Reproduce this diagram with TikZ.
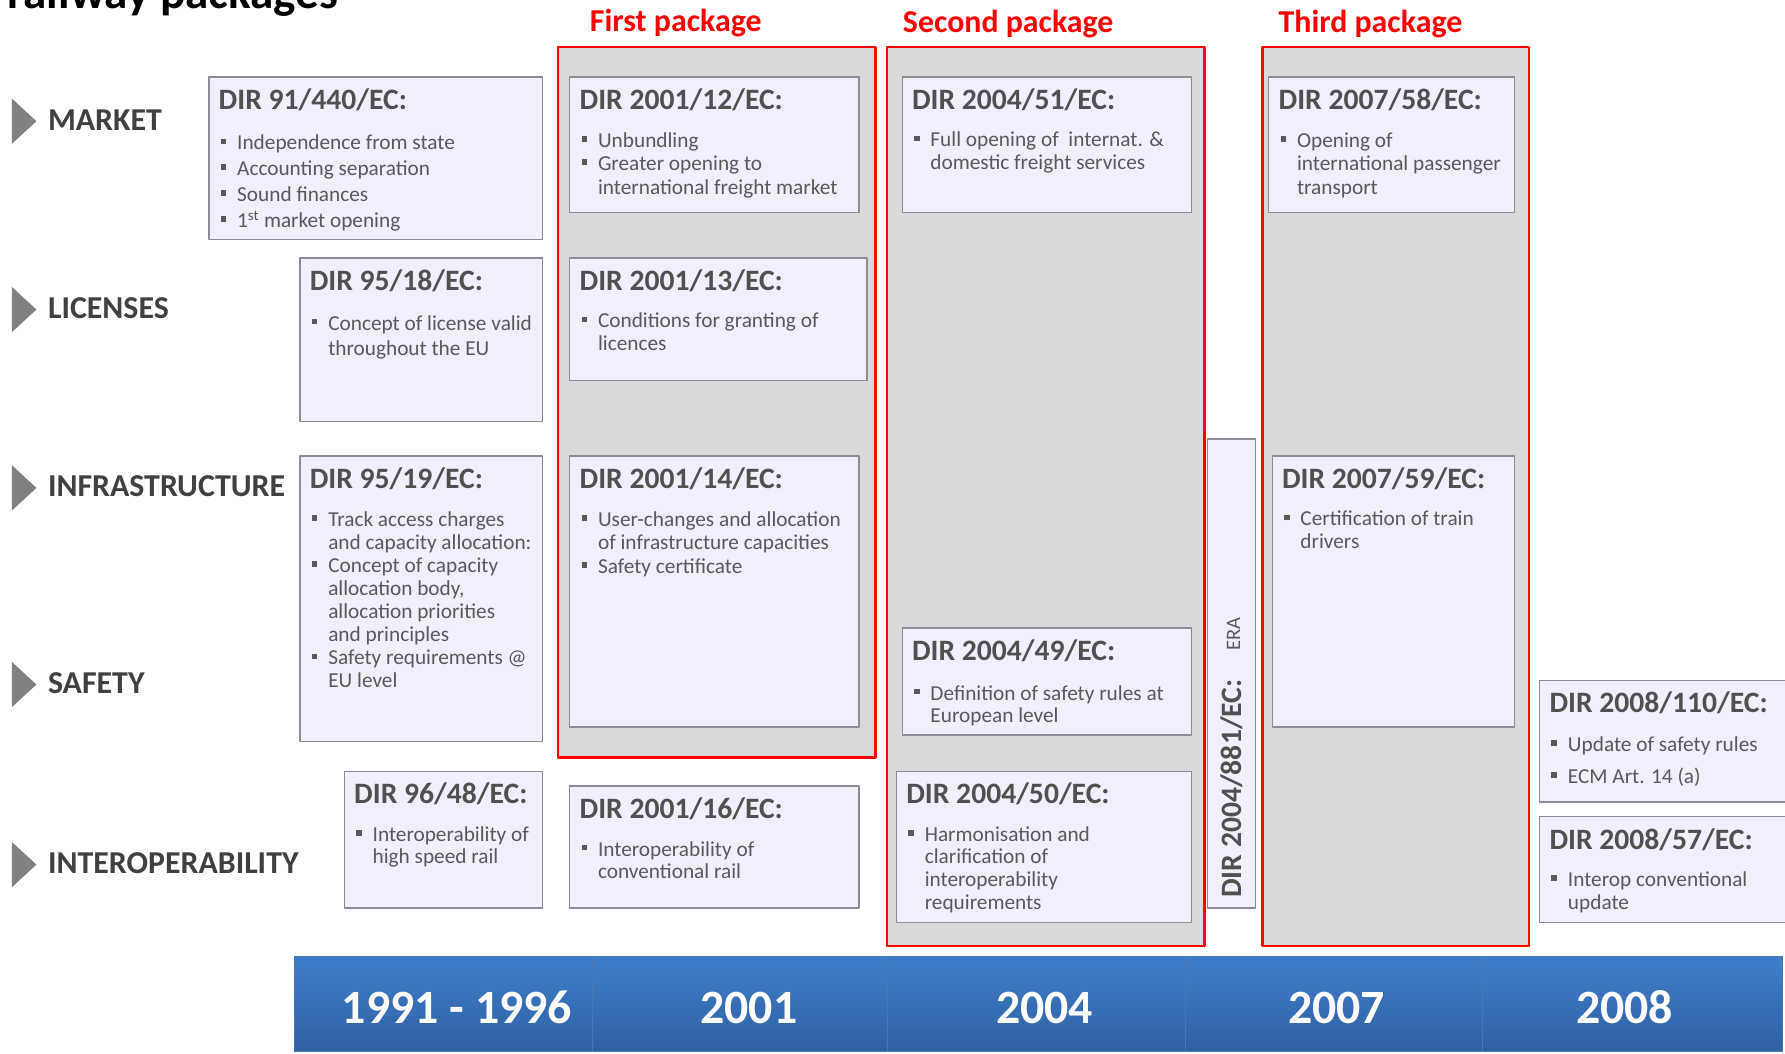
\documentclass[tikz,border=0pt]{standalone}
\usepackage{fontspec}
\setmainfont{Carlito}
\usetikzlibrary{positioning}

\definecolor{boxfill}{RGB}{240,239,251}
\definecolor{boxline}{RGB}{140,140,152}
\definecolor{pkgfill}{RGB}{217,217,217}
\definecolor{pkgred}{RGB}{255,0,0}
\definecolor{ttlgray}{RGB}{80,80,80}
\definecolor{txtgray}{RGB}{89,89,89}
\definecolor{catgray}{RGB}{64,64,64}
\definecolor{trigray}{RGB}{128,128,128}
\definecolor{bartop}{RGB}{62,126,202}
\definecolor{barbot}{RGB}{47,96,162}
\definecolor{barline}{RGB}{72,118,180}

% bullet line with hanging indent
\newcommand{\itm}{\par\hangindent=16.2pt\hangafter=1\noindent
  \hbox to 16.2pt{\hskip1.7pt\raisebox{4.9pt}{\rule{5pt}{5pt}}\hss}}
% box text: height, width, line skip, title, bullets
\newcommand{\dirtext}[5]{%
  \parbox[t][#1pt][t]{#2pt}{\raggedright\leftskip=8.6pt\relax
    \vspace*{7.4pt}%
    {\fontsize{26pt}{26pt}\selectfont\bfseries\color{ttlgray}\rule{0pt}{21pt}#4\par}%
    \vspace{13pt}%
    \fontsize{18.7pt}{#3pt}\selectfont\color{txtgray}#5\par}}

\begin{document}
\begin{tikzpicture}[x=1pt, y=1pt,
    line join=round,
    every node/.style = {inner sep=0pt},
    dirbox/.style = {draw=boxline, fill=boxfill, line width=1.1pt, anchor=north west},
    pkgbox/.style = {draw=pkgred, fill=pkgfill, line width=2.3pt, anchor=north west},
    pkglabel/.style = {anchor=base west, text=pkgred, font=\fontsize{28pt}{28pt}\selectfont\bfseries},
    catlabel/.style = {anchor=base west, text=catgray, font=\fontsize{28pt}{28pt}\selectfont\bfseries},
    yearseg/.style = {draw=barline, line width=1pt, top color=bartop, bottom color=barbot,
      minimum height=83, anchor=north west},
    yearlab/.style = {anchor=base, text=white, font=\fontsize{42pt}{42pt}\selectfont\bfseries}
    ]
    \useasboundingbox (0,0) rectangle (1568,-925);
    \clip (0,0) rectangle (1568,-925);

    \node[anchor=base west, font=\fontsize{41.4pt}{41.4pt}\selectfont\bfseries] (title) at (6.7,-7.5) {railway packages};

    % categories
    \foreach \nm/\txt/\yy in {market/MARKET/114.2, licenses/LICENSES/279.6,
        infra/INFRASTRUCTURE/436.3, safety/SAFETY/609, interop/INTEROPERABILITY/767.2} {
      \node[catlabel] (\nm) at (42,-\yy) {\txt};
      \fill[trigray] ([shift={(-31.5,7.7)}]\nm.base west) -- ++(0,19.8) -- ++(21.5,-19.8)
        -- ++(-21.5,-19.8) -- cycle;
    }

    % packages
    \node[pkgbox, minimum width=279, minimum height=624] (pkg1) at (489,-40) {};
    \node[pkgbox, minimum width=279, minimum height=790] (pkg2) at (778,-40) {};
    \node[pkgbox, minimum width=234, minimum height=790] (pkg3) at (1108,-40) {};
    \node[pkglabel] (pkg1lab) at ([shift={(29,12)}]pkg1.north west) {First package};
    \node[pkglabel] (pkg2lab) at ([shift={(15,11.6)}]pkg2.north west) {Second package};
    \node[pkglabel] (pkg3lab) at ([shift={(15,11.6)}]pkg3.north west) {Third package};

    % 1991 - 1996
    \node[dirbox] (d91440) at (183,-67) {\dirtext{143}{293}{22.7}{DIR 91/440/EC:}{%
      \itm Independence from state
      \itm Accounting separation
      \itm Sound finances
      \itm 1\textsuperscript{st} market opening}};
    \node[dirbox] (d9518) at (263,-226) {\dirtext{144}{213}{22}{DIR 95/18/EC:}{%
      \itm Concept of license valid\newline throughout the EU}};
    \node[dirbox] (d9519) at (263,-400) {\dirtext{251}{213}{20.3}{DIR 95/19/EC:}{%
      \itm Track access charges\newline and capacity allocation:
      \itm Concept of capacity\newline allocation body,\newline allocation priorities\newline and principles
      \itm Safety requirements @\newline EU level}};
    \node[dirbox] (d9648) at (302,-677) {\dirtext{120}{174}{20}{DIR 96/48/EC:}{%
      \itm Interoperability of\newline high speed rail}};

    % 2001
    \node[dirbox] (d200112) at (500,-67) {\dirtext{119}{254}{20.5}{DIR 2001/12/EC:}{%
      \itm Unbundling
      \itm Greater opening to\newline international freight market}};
    \node[dirbox] (d200113) at (500,-226) {\dirtext{108}{261}{20}{DIR 2001/13/EC:}{%
      \itm Conditions for granting of\newline licences}};
    \node[dirbox] (d200114) at (500,-400) {\dirtext{238}{254}{20.5}{DIR 2001/14/EC:}{%
      \itm User-changes and allocation\newline of infrastructure capacities
      \itm Safety certificate}};
    \node[dirbox] (d200116) at (500,-690) {\dirtext{107}{254}{20}{DIR 2001/16/EC:}{%
      \itm Interoperability of\newline conventional rail}};

    % 2004
    \node[dirbox] (d200451) at (792,-67) {\dirtext{119}{254}{20}{DIR 2004/51/EC:}{%
      \itm Full opening of~ internat. \&\newline domestic freight services}};
    \node[dirbox] (d200449) at (792,-551) {\dirtext{94}{254}{20}{DIR 2004/49/EC:}{%
      \vspace{2pt}\itm Definition of safety rules at\newline European level}};
    \node[dirbox] (d200450) at (787,-677) {\dirtext{133}{259}{20}{DIR 2004/50/EC:}{%
      \itm Harmonisation and\newline clarification of\newline interoperability\newline requirements}};
    \node[dirbox, minimum width=42, minimum height=412] (era) at (1060,-385) {};
    \node[rotate=90, text=ttlgray, font=\fontsize{26pt}{26pt}\selectfont\bfseries] (eradir) at (1082,-692.7) {DIR 2004/881/EC:};
    \node[rotate=90, text=txtgray, font=\fontsize{18pt}{18pt}\selectfont] (eralab) at (1083.5,-557) {ERA};

    % 2007
    \node[dirbox] (d200758) at (1114,-67) {\dirtext{119}{216}{20.5}{DIR 2007/58/EC:}{%
      \itm Opening of\newline international passenger\newline transport}};
    \node[dirbox] (d200759) at (1117,-400) {\dirtext{238}{213}{20}{DIR 2007/59/EC:}{%
      \itm Certification of train\newline drivers}};

    % 2008
    \node[dirbox] (d2008110) at (1352,-597) {\dirtext{107}{230}{28}{DIR 2008/110/EC:}{%
      \vspace{-7pt}\itm Update of safety rules
      \itm ECM Art. 14 (a)}};
    \node[dirbox] (d200857) at (1352,-717) {\dirtext{93}{230}{20}{DIR 2008/57/EC:}{%
      \itm Interop conventional\newline update}};

    % time line
    \node[yearseg, minimum width=262] (seg1) at (258,-840) {};
    \node[yearseg, minimum width=259] (seg2) at (520,-840) {};
    \node[yearseg, minimum width=262] (seg3) at (779,-840) {};
    \node[yearseg, minimum width=261] (seg4) at (1041,-840) {};
    \node[yearseg, minimum width=263] (seg5) at (1302,-840) {};
    \node[yearlab] (yr1) at (401.4,-898.9) {1991 - 1996};
    \node[yearlab] (yr2) at (657.8,-898.9) {2001};
    \node[yearlab] (yr3) at (917.5,-898.9) {2004};
    \node[yearlab] (yr4) at (1174,-898.9) {2007};
    \node[yearlab] (yr5) at (1427,-898.9) {2008};
\end{tikzpicture}
\end{document}
